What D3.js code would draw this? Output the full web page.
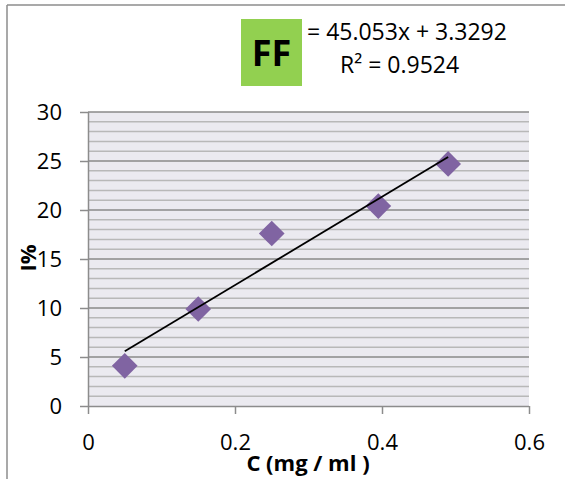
<!DOCTYPE html>
<html><head><meta charset="utf-8">
<script src="https://cdn.jsdelivr.net/npm/d3@7"></script>
<style>
html,body{margin:0;padding:0;background:#fff;}
svg{display:block;font-family:"Open Sans",sans-serif;}
</style></head>
<body>
<svg id="chart" width="565" height="479"></svg>
<script>
const concentrations = [0.05, 0.15, 0.25, 0.395, 0.49];
const inhibition = [4.1, 9.9, 17.6, 20.4, 24.7];
const xTicks = [0, 0.2, 0.4, 0.6];
const yTicks = [0, 5, 10, 15, 20, 25, 30];
const minorTicks = d3.range(0, 31, 1);
const slope = 45.053, intercept = 3.3292;
const equationText = "= 45.053x + 3.3292";
const r2Text = "R² = 0.9524";
const badgeText = "FF";
const xTitle = "C (mg / ml )";
const yTitle = "I%";

(function(){
const svg = d3.select("#chart");
const pl = 88, pr = 529, pt = 112, pb = 406;
const x = d3.scaleLinear().domain([0, 0.6]).range([pl, pr]);
const y = d3.scaleLinear().domain([0, 30]).range([pb, pt]);

// outer frame
svg.append("line").attr("x1",7).attr("x2",565).attr("y1",5).attr("y2",5).attr("stroke","#8c8c8c").attr("stroke-width",1.5);
svg.append("line").attr("x1",7).attr("x2",7).attr("y1",5).attr("y2",479).attr("stroke","#8c8c8c").attr("stroke-width",1.5);

// plot background
svg.append("rect").attr("x",pl).attr("y",pt).attr("width",pr-pl).attr("height",pb-pt).attr("fill","#ebeaf0");

// minor gridlines
svg.append("g").selectAll("line").data(minorTicks.filter(d => d % 5 !== 0)).join("line")
  .attr("x1",pl).attr("x2",pr).attr("y1",d=>y(d)).attr("y2",d=>y(d))
  .attr("stroke","#b8b8b8").attr("stroke-width",1.5);
// major gridlines
svg.append("g").selectAll("line").data(yTicks.filter(d=>d>0)).join("line")
  .attr("x1",pl).attr("x2",pr).attr("y1",d=>y(d)).attr("y2",d=>y(d))
  .attr("stroke","#8a8a8a").attr("stroke-width",1.5);

// axes
const yAxis = svg.append("g").attr("transform",`translate(${pl},0)`)
  .call(d3.axisLeft(y).tickValues(yTicks).tickSize(8).tickPadding(18).tickFormat(d3.format("d")));
const xAxis = svg.append("g").attr("transform",`translate(0,${pb})`)
  .call(d3.axisBottom(x).tickValues(xTicks).tickSize(8).tickPadding(20).tickFormat(d => d === 0 ? "0" : d3.format(".1f")(d)));
[yAxis, xAxis].forEach(a => {
  a.select(".domain").attr("stroke","#8c8c8c").attr("stroke-width",1.5);
  a.selectAll(".tick line").attr("stroke","#8c8c8c").attr("stroke-width",1.5);
  a.selectAll(".tick text").attr("fill","#000").attr("font-size",22).attr("font-family","Open Sans, sans-serif");
});
xAxis.select(".domain").attr("d", `M${pl},0.5H${pr}`);
yAxis.select(".domain").attr("d", `M0.5,${pt}V${pb}`);

// points
const diamond = d3.symbol().type(d3.symbolSquare).size(330);
svg.append("g").selectAll("path").data(concentrations).join("path")
  .attr("d", diamond)
  .attr("transform",(d,i)=>`translate(${x(d)},${y(inhibition[i])}) rotate(45)`)
  .attr("fill","#8064a2");

// trendline
const xmin = d3.min(concentrations), xmax = d3.max(concentrations);
svg.append("line")
  .attr("x1",x(xmin)).attr("y1",y(slope*xmin+intercept))
  .attr("x2",x(xmax)).attr("y2",y(slope*xmax+intercept))
  .attr("stroke","#000").attr("stroke-width",1.8);

// badge
svg.append("rect").attr("x",241).attr("y",19).attr("width",61).attr("height",67).attr("fill","#92d050");
svg.append("text").attr("x",271.5).attr("y",66).attr("text-anchor","middle")
  .attr("font-size",36).attr("font-weight","bold").attr("fill","#000").text(badgeText);
svg.append("text").attr("x",307).attr("y",40).attr("font-size",23).attr("fill","#000").text(equationText);
svg.append("text").attr("x",340).attr("y",73).attr("font-size",23).attr("fill","#000").text(r2Text);

// axis titles
svg.append("text").attr("x",308).attr("y",471).attr("text-anchor","middle")
  .attr("font-size",22).attr("font-weight","bold").attr("fill","#000").text(xTitle);
svg.append("text").attr("transform","translate(36,258) rotate(-90)").attr("text-anchor","middle")
  .attr("font-size",22).attr("font-weight","bold").attr("fill","#000").text(yTitle);
})();
</script>
</body></html>
